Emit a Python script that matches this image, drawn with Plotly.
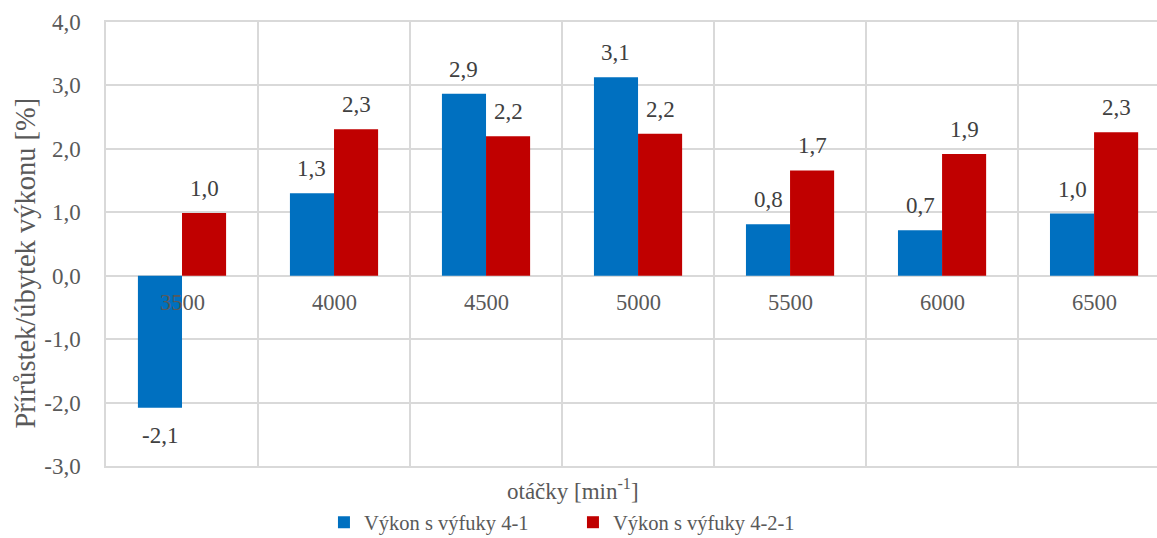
import plotly.graph_objects as go

# Engine speed categories [min^-1]
rpm = ["3500", "4000", "4500", "5000", "5500", "6000", "6500"]

# Power gain/loss [%] for the two exhaust manifolds
power_4_1 = [-2.08, 1.30, 2.87, 3.13, 0.81, 0.715, 0.98]
power_4_2_1 = [0.99, 2.31, 2.20, 2.24, 1.66, 1.92, 2.26]

series_names = ["Výkon s výfuky 4-1", "Výkon s výfuky 4-2-1"]
series_colors = ["#0070C0", "#C00000"]

y_ticks = [-3, -2, -1, 0, 1, 2, 3, 4]

FONT = "Liberation Serif"
FS = 23
AXIS_GRAY = "#595959"
LABEL_GRAY = "#404040"
GRID = "#D9D9D9"
BARGAP = 0.42


def fmt(v):
    return f"{v:.1f}".replace(".", ",")


fig = go.Figure()
for name, vals, col in zip(series_names, [power_4_1, power_4_2_1], series_colors):
    fig.add_trace(go.Bar(
        x=rpm, y=vals, name=name,
        marker=dict(color=col, line=dict(width=0)),
    ))

# Value labels above/below each bar
half = (1 - BARGAP) / 4
annotations = []
for k, vals in enumerate([power_4_1, power_4_2_1]):
    offset = -half if k == 0 else half
    for i, v in enumerate(vals):
        annotations.append(dict(
            x=i + offset, y=v, xref="x", yref="y", text=fmt(v), showarrow=False,
            yanchor="bottom" if v >= 0 else "top",
            yshift=10 if v >= 0 else -13,
            font=dict(family=FONT, size=FS, color=LABEL_GRAY),
        ))

# Category labels sitting on the zero line
for i, c in enumerate(rpm):
    annotations.append(dict(
        x=i, y=0, xref="x", yref="y", text=c, showarrow=False,
        yanchor="top", yshift=-12,
        font=dict(family=FONT, size=22.5, color=AXIS_GRAY),
    ))

# Axis titles
annotations.append(dict(
    x=-0.077, y=0.456, xref="paper", yref="paper", textangle=-90,
    text="Přírůstek/úbytek výkonu [%]", showarrow=False,
    xanchor="center", yanchor="middle",
    font=dict(family=FONT, size=28.5, color=AXIS_GRAY),
))
annotations.append(dict(
    x=0.4443, y=-0.054, xref="paper", yref="paper",
    text="otáčky [min<sup>-1</sup>]", showarrow=False,
    xanchor="center", yanchor="middle",
    font=dict(family=FONT, size=FS, color=AXIS_GRAY),
))

fig.update_layout(
    width=1157, height=538,
    margin=dict(l=106, r=0, t=22, b=72, autoexpand=False),
    paper_bgcolor="white", plot_bgcolor="white",
    barmode="group", bargap=BARGAP, bargroupgap=0,
    font=dict(family=FONT, size=FS, color=AXIS_GRAY),
    showlegend=True,
    legend=dict(
        orientation="h", x=0.4443, xanchor="center", y=-0.127, yanchor="middle",
        font=dict(family=FONT, size=20.5, color=AXIS_GRAY),
        itemwidth=30, entrywidth=204, traceorder="normal",
    ),
    annotations=annotations,
)
fig.update_xaxes(
    type="category", range=[-0.5, 6.414],
    tickson="boundaries", showgrid=True, gridcolor=GRID, gridwidth=1.5,
    showticklabels=False, ticks="",
    showline=True, linecolor=GRID, linewidth=1.5, mirror=True,
    zeroline=False,
)
fig.update_yaxes(
    range=[-3, 4], tickvals=y_ticks, ticktext=[fmt(v) for v in y_ticks],
    showgrid=True, gridcolor=GRID, gridwidth=1.5,
    zeroline=True, zerolinecolor=GRID, zerolinewidth=1.5,
    showline=True, linecolor=GRID, linewidth=1.5,
    ticks="", ticklabelstandoff=19,
    tickfont=dict(family=FONT, size=FS, color=AXIS_GRAY),
)

fig.write_html("out.html")
